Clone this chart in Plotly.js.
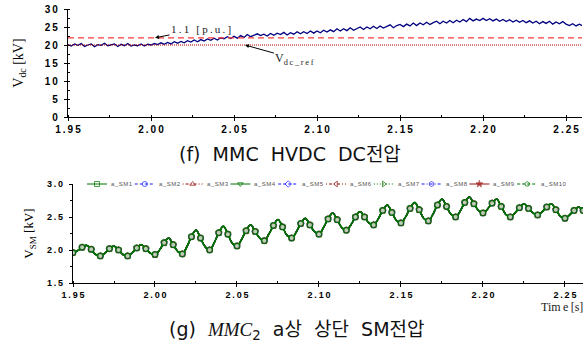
<!DOCTYPE html>
<html><head><meta charset="utf-8">
<script src="https://cdn.plot.ly/plotly-3.0.1.min.js"></script>
<style>html,body{margin:0;padding:0;background:#fff}#chart{width:585px;height:349px}</style>
</head><body><div id="chart"></div>
<script>
// ---- Data: (f) MMC HVDC DC voltage ----
const vdcStart = 1.95;
const vdcStep = 0.002;
const vdc = [
  20.1, 19.7, 20.3, 19.9, 20.4, 19.6, 20.0, 20.3, 19.5, 20.1, 19.9, 20.5, 19.8, 20.0, 20.3, 19.6, 20.2, 19.8, 20.4, 19.7, 20.0, 19.8, 20.3, 19.7, 20.2,
  20.0, 20.4, 20.1, 20.6, 20.2, 20.7, 20.3, 20.9, 20.5, 21.0, 20.6, 21.2, 20.8, 21.4, 20.9, 21.5, 21.1, 21.7, 21.3, 21.9, 21.4, 22.0, 21.7, 22.3, 21.8,
  22.4, 21.9, 22.6, 22.1, 22.9, 22.3, 22.6, 23.1, 22.6, 23.0, 22.5, 23.2, 22.7, 23.3, 22.9, 23.5, 22.8, 23.4, 23.0, 23.7, 23.1, 23.7, 23.2, 23.9, 23.3,
  23.9, 23.4, 24.1, 23.6, 24.2, 23.7, 24.5, 23.9, 24.5, 24.0, 24.8, 24.1, 24.6, 25.0, 24.3, 25.0, 24.5, 25.2, 24.6, 25.3, 24.7, 25.2, 25.6, 24.8, 25.4,
  25.7, 25.1, 25.8, 25.3, 26.1, 25.4, 26.1, 25.6, 26.3, 25.7, 26.2, 26.6, 25.9, 26.6, 26.1, 26.8, 26.2, 26.9, 26.4, 27.1, 26.5, 27.4, 26.7, 27.2, 26.8,
  27.4, 26.8, 27.3, 26.7, 27.2, 26.6, 27.1, 26.5, 27.0, 26.4, 26.9, 26.3, 26.8, 26.2, 26.7, 26.1, 26.6, 25.9, 26.5, 26.0, 26.6, 25.8, 26.4, 25.9, 26.5,
  25.8, 25.4, 25.9, 25.3, 25.8, 25.3
];
const vdcRefLevel = 20;     // V_dc_ref [kV]
const vdcLimitLevel = 22;   // 1.1 [p.u.]

// ---- Data: (g) MMC2 a-phase upper SM voltages ----
const smStart = 1.95;
const smStep = 1 / 360;
const vSM = [
  1.96, 1.99, 2.04, 2.07, 2.01, 1.93, 1.91, 1.95, 2.02, 2.06,
  2.00, 1.93, 1.91, 1.96, 2.03, 2.08, 2.02, 1.95, 1.93, 2.00,
  2.11, 2.18, 2.08, 1.98, 1.94, 2.05, 2.20, 2.30, 2.18, 2.05,
  2.00, 2.11, 2.26, 2.36, 2.24, 2.10, 2.06, 2.16, 2.29, 2.38,
  2.28, 2.18, 2.14, 2.24, 2.37, 2.46, 2.35, 2.22, 2.18, 2.27,
  2.40, 2.48, 2.38, 2.28, 2.24, 2.34, 2.47, 2.56, 2.46, 2.34,
  2.30, 2.38, 2.50, 2.58, 2.50, 2.41, 2.38, 2.47, 2.60, 2.68,
  2.57, 2.45, 2.41, 2.50, 2.63, 2.72, 2.61, 2.48, 2.44, 2.54,
  2.68, 2.77, 2.66, 2.54, 2.50, 2.59, 2.72, 2.80, 2.70, 2.60,
  2.56, 2.62, 2.71, 2.77, 2.66, 2.54, 2.50, 2.56, 2.64, 2.70,
  2.63, 2.56, 2.53, 2.58, 2.65, 2.70, 2.61, 2.51, 2.48, 2.53,
  2.60, 2.65, 2.60
];
const smNames = ['a_SM1','a_SM2','a_SM3','a_SM4','a_SM5','a_SM6','a_SM7','a_SM8','a_SM9','a_SM10'];

// ---- Tick labels ----
const xTickVals = [1.95, 2.00, 2.05, 2.10, 2.15, 2.20, 2.25];
const xTickText = ['1.95', '2.00', '2.05', '2.10', '2.15', '2.20', '2.25'];
const yTopVals = [0, 5, 10, 15, 20, 25, 30];
const yTopText = ['0', '5', '10', '15', '20', '25', '30'];
const yBotVals = [1.5, 2.0, 2.5, 3.0];
const yBotText = ['1.5', '2.0', '2.5', '3.0'];

// ---- Styles ----
const green = '#007400', blue = '#1a1aff', dred = '#9a0f0f';
const smStyles = [
  {c: green, d: 'solid',           s: 'square-open'},
  {c: blue,  d: '3px,2px',         s: 'circle-open'},
  {c: dred,  d: '1px,2px,3px,2px', s: 'triangle-up-open'},
  {c: green, d: 'solid',           s: 'triangle-down-open'},
  {c: blue,  d: '3px,2px',         s: 'diamond-open'},
  {c: dred,  d: '1px,2px,3px,2px', s: 'triangle-left-open'},
  {c: green, d: '1px,2px',         s: 'triangle-right-open'},
  {c: blue,  d: '3px,2px,1px,2px', s: 'hexagon-open'},
  {c: dred,  d: 'solid',           s: 'star'},
  {c: green, d: '3px,2px',         s: 'pentagon-open'}
];
const sp = s => s.split('').join('\u2009');
const hsp = s => s.split('').join('\u200a');
const tickFontTop = {family: 'Liberation Sans, Arial, sans-serif', size: 10, weight: 700, color: '#000'};
const tickFontBot = {family: 'Liberation Sans, Arial, sans-serif', size: 9, weight: 700, color: '#000'};
const serif = 'Liberation Serif, Times New Roman, serif';
const capFont = 'DejaVu Sans, Noto Sans CJK KR, sans-serif';
const gap = '\u00a0\u00a0';

const traces = [];
traces.push({
  type: 'scatter', mode: 'lines', x0: vdcStart, dx: vdcStep, y: vdc,
  xaxis: 'x', yaxis: 'y', showlegend: false,
  line: {color: '#000080', width: 1.3}, name: 'Vdc'
});

const markerSizes = vSM.map((_, i) => (i % 2 === 0 ? 5 : 0));
smNames.forEach((name, k) => {
  const st = smStyles[k];
  const last = k === smNames.length - 1;
  traces.push({
    type: 'scatter', mode: 'lines+markers', x0: smStart, dx: smStep, y: vSM,
    xaxis: 'x2', yaxis: 'y2', showlegend: false, name: name,
    line: {color: st.c, width: last ? 1.8 : 1.2, shape: 'spline', smoothing: 1.1},
    marker: {symbol: last ? 'circle' : st.s, color: last ? '#ffffff' : st.c,
             size: last ? markerSizes.map(s => s ? 5.5 : 0) : markerSizes,
             line: {color: st.c, width: last ? 1.5 : 1}}
  });
});

// ---- Custom legend row (drawn on a hidden pixel-space overlay axis) ----
const legStartPx = 87, legStepPx = 47.8, legRowPx = 349 - 184, legLinePx = 20;
const legAnn = [];
smNames.forEach((name, k) => {
  const st = smStyles[k];
  const x0 = legStartPx + k * legStepPx;
  traces.push({
    type: 'scatter', mode: 'lines+markers', xaxis: 'x3', yaxis: 'y3', showlegend: false,
    x: [x0, x0 + legLinePx / 2, x0 + legLinePx], y: [legRowPx, legRowPx, legRowPx],
    line: {color: st.c, width: 1, dash: st.d},
    marker: {symbol: st.s, color: st.c, size: [0, 5, 0], line: {color: st.c, width: 1}},
    hoverinfo: 'skip'
  });
  legAnn.push({
    xref: 'paper', yref: 'paper', x: (x0 + legLinePx + 2) / 585, y: legRowPx / 349,
    xanchor: 'left', yanchor: 'middle', showarrow: false, text: hsp(name),
    font: {family: 'Liberation Sans, Arial, sans-serif', size: 6, color: '#555'}
  });
});

const layout = {
  width: 585, height: 349,
  margin: {l: 0, r: 0, t: 0, b: 0},
  paper_bgcolor: '#fff', plot_bgcolor: 'rgba(0,0,0,0)',
  showlegend: false,
  xaxis: {
    domain: [68 / 585, 582 / 585], range: [1.95, 2.2596], anchor: 'y',
    showline: true, linecolor: '#000', linewidth: 1.2,
    showgrid: false, zeroline: false,
    ticks: 'outside', ticklen: 3, tickcolor: '#000',
    tickmode: 'array', tickvals: xTickVals, ticktext: xTickText.map(sp), tickfont: tickFontTop,
    minor: {dtick: 0.025, tick0: 1.95, ticks: 'inside', ticklen: 2, tickcolor: '#000', showgrid: false}
  },
  yaxis: {
    domain: [(349 - 117) / 349, (349 - 9) / 349], range: [0, 30], anchor: 'x',
    showline: true, linecolor: '#000', linewidth: 1.2,
    showgrid: false, zeroline: false,
    ticks: 'outside', ticklen: 3, tickcolor: '#000', ticklabelstandoff: 4,
    tickmode: 'array', tickvals: yTopVals, ticktext: yTopText.map(sp), tickfont: tickFontTop,
    minor: {dtick: 2.5, ticks: 'inside', ticklen: 2, tickcolor: '#000', showgrid: false},
    title: {text: 'V<sub>dc</sub> [kV]', font: {family: serif, size: 14, color: '#000'}, standoff: 17}
  },
  xaxis2: {
    domain: [73 / 585, 583 / 585], range: [1.95, 2.261], anchor: 'y2',
    showline: true, linecolor: '#000', linewidth: 1.2,
    showgrid: false, zeroline: false,
    ticks: 'outside', ticklen: 3, tickcolor: '#000', ticklabelstandoff: 0,
    tickmode: 'array', tickvals: xTickVals, ticktext: xTickText.map(sp), tickfont: tickFontBot,
    minor: {dtick: 0.025, tick0: 1.95, ticks: 'inside', ticklen: 2, tickcolor: '#000', showgrid: false}
  },
  yaxis2: {
    domain: [(349 - 283) / 349, (349 - 184) / 349], range: [1.5, 3.0], anchor: 'x2',
    showline: true, linecolor: '#000', linewidth: 1.2,
    showgrid: false, zeroline: false,
    ticks: 'outside', ticklen: 3, tickcolor: '#000', ticklabelstandoff: 4,
    tickmode: 'array', tickvals: yBotVals, ticktext: yBotText.map(sp), tickfont: tickFontBot,
    minor: {dtick: 0.25, ticks: 'outside', ticklen: 2, tickcolor: '#000', showgrid: false},
    title: {text: 'V<sub>SM</sub> [kV]', font: {family: serif, size: 13, color: '#000'}, standoff: 10}
  },
  xaxis3: {domain: [0, 1], range: [0, 585], anchor: 'y3', visible: false, fixedrange: true},
  yaxis3: {domain: [0, 1], range: [0, 349], anchor: 'x3', visible: false, fixedrange: true},
  shapes: [
    {type: 'line', xref: 'x', yref: 'y', x0: 1.95, x1: 2.2596, y0: vdcLimitLevel, y1: vdcLimitLevel,
     line: {color: '#ff3b3b', width: 1.3, dash: '6px,4px'}},
    {type: 'line', xref: 'x', yref: 'y', x0: 1.95, x1: 2.2596, y0: vdcRefLevel, y1: vdcRefLevel,
     line: {color: '#b00000', width: 1, dash: '1px,1px'}}
  ],
  annotations: [
    {xref: 'x', yref: 'y', x: 2.0024, y: vdcLimitLevel, text: sp('1.1 [p.u.]'),
     showarrow: true, arrowhead: 2, arrowsize: 0.8, arrowwidth: 1, arrowcolor: '#000',
     ax: 46, ay: -9, font: {family: serif, size: 11, color: '#222'}},
    {xref: 'x', yref: 'y', x: 2.0566, y: vdcRefLevel, text: 'V<sub>' + sp('dc_ref') + '</sub>',
     showarrow: true, arrowhead: 2, arrowsize: 0.8, arrowwidth: 1, arrowcolor: '#000',
     ax: 50, ay: 14, font: {family: serif, size: 12, color: '#222'}},
    {xref: 'paper', yref: 'paper', x: 290 / 585, y: (349 - 154) / 349, xanchor: 'center', yanchor: 'middle',
     showarrow: false, text: '(f)' + gap + 'MMC' + gap + 'HVDC' + gap + 'DC전압',
     font: {family: capFont, size: 19, color: '#111'}},
    {xref: 'paper', yref: 'paper', x: 297 / 585, y: (349 - 330) / 349, xanchor: 'center', yanchor: 'middle',
     showarrow: false,
     text: '(g)' + gap + '<span style="font-family:Liberation Serif;font-style:italic">MMC</span><sub>2</sub>' + gap + 'a상' + gap + '상단' + gap + 'SM전압',
     font: {family: capFont, size: 19, color: '#111'}},
    {xref: 'paper', yref: 'paper', x: 1, y: (349 - 307) / 349, xanchor: 'right', yanchor: 'middle',
     showarrow: false, text: 'Tim\u2009e\u2009[s]',
     font: {family: serif, size: 12, color: '#222'}}
  ].concat(legAnn)
};

Plotly.newPlot('chart', traces, layout, {staticPlot: true, displayModeBar: false});
</script>
</body></html>
